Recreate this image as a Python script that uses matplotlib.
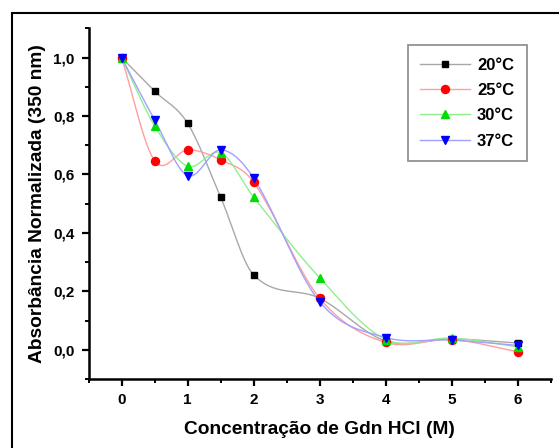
import numpy as np
import matplotlib
matplotlib.use("Agg")
import matplotlib.pyplot as plt
from matplotlib.patches import Rectangle
from matplotlib.ticker import MultipleLocator, FixedLocator

plt.rcParams['font.family'] = ['Liberation Sans', 'DejaVu Sans']
plt.rcParams['font.weight'] = 'bold'

conc = [0, 0.5, 1, 1.5, 2, 3, 4, 5, 6]
abs_20 = [1.0, 0.885, 0.775, 0.522, 0.256, 0.176, 0.030, 0.037, 0.023]
abs_25 = [1.0, 0.647, 0.684, 0.650, 0.573, 0.176, 0.025, 0.035, -0.007]
abs_30 = [1.0, 0.767, 0.628, 0.674, 0.522, 0.246, 0.035, 0.040, 0.010]
abs_37 = [1.0, 0.787, 0.596, 0.684, 0.587, 0.164, 0.042, 0.033, 0.015]
series_labels = ["20°C", "25°C", "30°C", "37°C"]
y_ticks = [0.0, 0.2, 0.4, 0.6, 0.8, 1.0]
y_tick_labels = ["0,0", "0,2", "0,4", "0,6", "0,8", "1,0"]
x_ticks = [0, 1, 2, 3, 4, 5, 6]
x_tick_labels = ["0", "1", "2", "3", "4", "5", "6"]


def smooth(x, y, n=40):
    """Piecewise cubic Hermite curve with finite-difference tangents."""
    x = np.asarray(x, float)
    y = np.asarray(y, float)
    m = np.zeros_like(y)
    m[0] = (y[1] - y[0]) / (x[1] - x[0])
    m[-1] = (y[-1] - y[-2]) / (x[-1] - x[-2])
    for i in range(1, len(x) - 1):
        m[i] = (y[i + 1] - y[i - 1]) / (x[i + 1] - x[i - 1])
    xs, ys = [], []
    for i in range(len(x) - 1):
        h = x[i + 1] - x[i]
        t = np.linspace(0, 1, n, endpoint=False)
        h00 = 2 * t**3 - 3 * t**2 + 1
        h10 = t**3 - 2 * t**2 + t
        h01 = -2 * t**3 + 3 * t**2
        h11 = t**3 - t**2
        xs.append(x[i] + t * h)
        ys.append(h00 * y[i] + h10 * h * m[i] + h01 * y[i + 1] + h11 * h * m[i + 1])
    xs.append([x[-1]])
    ys.append([y[-1]])
    return np.concatenate(xs), np.concatenate(ys)


fig = plt.figure(figsize=(5.59, 4.48), dpi=100)
L, R, B, T = 88.5, 551, 379, 28.3
ax = fig.add_axes([L / 559, 1 - B / 448, (R - L) / 559, (B - T) / 448])

styles = [
    (abs_20, 'black', '#a8a8a8', 's', 4.6),
    (abs_25, 'red', '#ff9f9f', 'o', 5.8),
    (abs_30, '#00dd00', '#90ee90', '^', 6.2),
    (abs_37, 'blue', '#a0a0ff', 'v', 6.2),
]
for (vals, mc, lc, mk, ms), lab in zip(styles, series_labels):
    sx, sy = smooth(conc, vals)
    ax.plot(sx, sy, color=lc, lw=1.0, zorder=2)
    ax.plot(conc, vals, linestyle='none', marker=mk, color=mc, ms=ms, zorder=3)
    ax.plot([], [], color=lc, lw=1.0, marker=mk, mfc=mc, mec=mc, ms=ms, label=lab)

ax.set_xlim(-0.5, 6.5)
ax.set_ylim(-0.1, 1.1)
ax.xaxis.set_major_locator(FixedLocator(x_ticks))
ax.set_xticklabels(x_tick_labels)
ax.xaxis.set_minor_locator(MultipleLocator(0.5))
ax.yaxis.set_major_locator(FixedLocator(y_ticks))
ax.set_yticklabels(y_tick_labels)
ax.yaxis.set_minor_locator(MultipleLocator(0.1))

for s in ['top', 'right']:
    ax.spines[s].set_visible(False)
for s in ['left', 'bottom']:
    ax.spines[s].set_linewidth(1.8)
ax.tick_params(which='major', direction='out', length=5, width=1.6, labelsize=11, pad=5)
ax.tick_params(which='minor', direction='out', length=3, width=1.4)
for lbl in ax.get_xticklabels() + ax.get_yticklabels():
    lbl.set_fontweight('bold')

ax.set_xlabel("Concentração de Gdn HCl (M)", fontsize=13.8, fontweight='bold', labelpad=10)
ax.set_ylabel("Absorbância Normalizada (350 nm)", fontsize=13.8, fontweight='bold', labelpad=5)

leg = ax.legend(loc='upper right', bbox_to_anchor=((526.7 - L) / (R - L), (B - 45) / (B - T)),
                frameon=True, fancybox=False, fontsize=12, handlelength=3.0,
                borderpad=0.75, labelspacing=0.62, handletextpad=0.4, borderaxespad=0)
leg.get_frame().set_edgecolor('#777777')
leg.get_frame().set_linewidth(1.3)
for t in leg.get_texts():
    t.set_fontweight('bold')

fig.patches.append(Rectangle((12 / 559, -0.1), 1.2, 1 - 13.5 / 448 + 0.1,
                             transform=fig.transFigure, fill=False,
                             edgecolor='black', linewidth=1.5))

fig.savefig("out.png", dpi=100)
